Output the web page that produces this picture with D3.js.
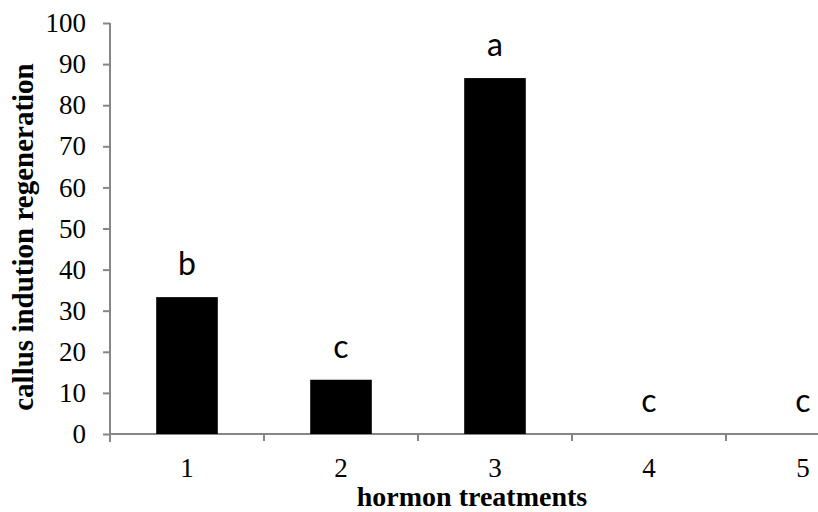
<!DOCTYPE html>
<html>
<head>
<meta charset="utf-8">
<script src="https://cdn.jsdelivr.net/npm/d3@7"></script>
<style>
  body { margin: 0; background: #fff; }
  .axis path, .axis line { stroke: #868686; stroke-width: 2; }
  .axis text { font-family: "Liberation Serif", "Times New Roman", serif; font-size: 27px; fill: #000; }
</style>
</head>
<body>
<div id="plot"></div>
<script>
    // Data
    const treatments = ['1', '2', '3', '4', '5'];
    const regeneration = [33.3, 13.2, 86.6, 0, 0];
    const groups = ['b', 'c', 'a', 'c', 'c'];
    const yTicks = [0, 10, 20, 30, 40, 50, 60, 70, 80, 90, 100];

    const data = treatments.map((t, i) => ({ category: t, value: regeneration[i], group: groups[i] }));

    const svgWidth = 818;
    const svgHeight = 512;
    // right edge is cropped in the reference, last band runs past the canvas
    const margin = { top: 23, left: 110, bottom: 434, right: 880 };

    const svg = d3.select('#plot')
        .append('svg')
        .attr('width', svgWidth)
        .attr('height', svgHeight);

    const xScale = d3.scaleBand()
        .domain(treatments)
        .range([margin.left, margin.right])
        .padding(0);

    const yScale = d3.scaleLinear()
        .domain([0, 100])
        .range([margin.bottom, margin.top]);

    const barWidth = xScale.bandwidth() * 0.4;

    // y axis
    svg.append('g')
        .attr('class', 'axis y-axis')
        .attr('transform', `translate(${margin.left}, 0)`)
        .call(d3.axisLeft(yScale).tickValues(yTicks).tickSize(7).tickPadding(17).tickSizeOuter(0))
        .call(g => g.select('.domain').attr('d', `M0,${margin.top}V${margin.bottom + 8}`));

    // x axis: ticks sit on band boundaries
    const xAxis = svg.append('g')
        .attr('class', 'axis x-axis')
        .attr('transform', `translate(0, ${margin.bottom})`);

    xAxis.append('path')
        .attr('class', 'domain')
        .attr('fill', 'none')
        .attr('d', `M${margin.left},0H${svgWidth}`);

    xAxis.selectAll('.tick-line')
        .data(treatments)
        .enter()
        .append('line')
        .attr('x1', d => xScale(d))
        .attr('x2', d => xScale(d))
        .attr('y1', 0)
        .attr('y2', 7);

    xAxis.selectAll('.tick-label')
        .data(treatments)
        .enter()
        .append('text')
        .attr('x', d => xScale(d) + xScale.bandwidth() / 2)
        .attr('y', 43)
        .attr('text-anchor', 'middle')
        .text(d => d);

    // bars
    svg.selectAll('.bar')
        .data(data)
        .enter()
        .append('rect')
        .attr('class', 'bar')
        .attr('x', d => xScale(d.category) + (xScale.bandwidth() - barWidth) / 2)
        .attr('y', d => yScale(d.value))
        .attr('width', barWidth)
        .attr('height', d => yScale(0) - yScale(d.value))
        .attr('fill', '#000');

    // significance letters
    svg.selectAll('.bar-label')
        .data(data)
        .enter()
        .append('text')
        .attr('class', 'bar-label')
        .attr('x', d => xScale(d.category) + xScale.bandwidth() / 2)
        .attr('y', d => yScale(d.value) - 22)
        .attr('text-anchor', 'middle')
        .style('font-family', 'Lato, "Open Sans", sans-serif')
        .style('font-size', '32px')
        .text(d => d.group);

    // axis titles
    svg.append('text')
        .attr('transform', `translate(472, 506)`)
        .attr('text-anchor', 'middle')
        .style('font-family', '"Liberation Serif", serif')
        .style('font-size', '28px')
        .style('font-weight', 'bold')
        .text('hormon treatments');

    svg.append('text')
        .attr('transform', 'translate(33, 237) rotate(-90)')
        .attr('text-anchor', 'middle')
        .style('font-family', '"Liberation Serif", serif')
        .style('font-size', '29px')
        .style('font-weight', 'bold')
        .text('callus indution regeneration');
</script>
</body>
</html>
